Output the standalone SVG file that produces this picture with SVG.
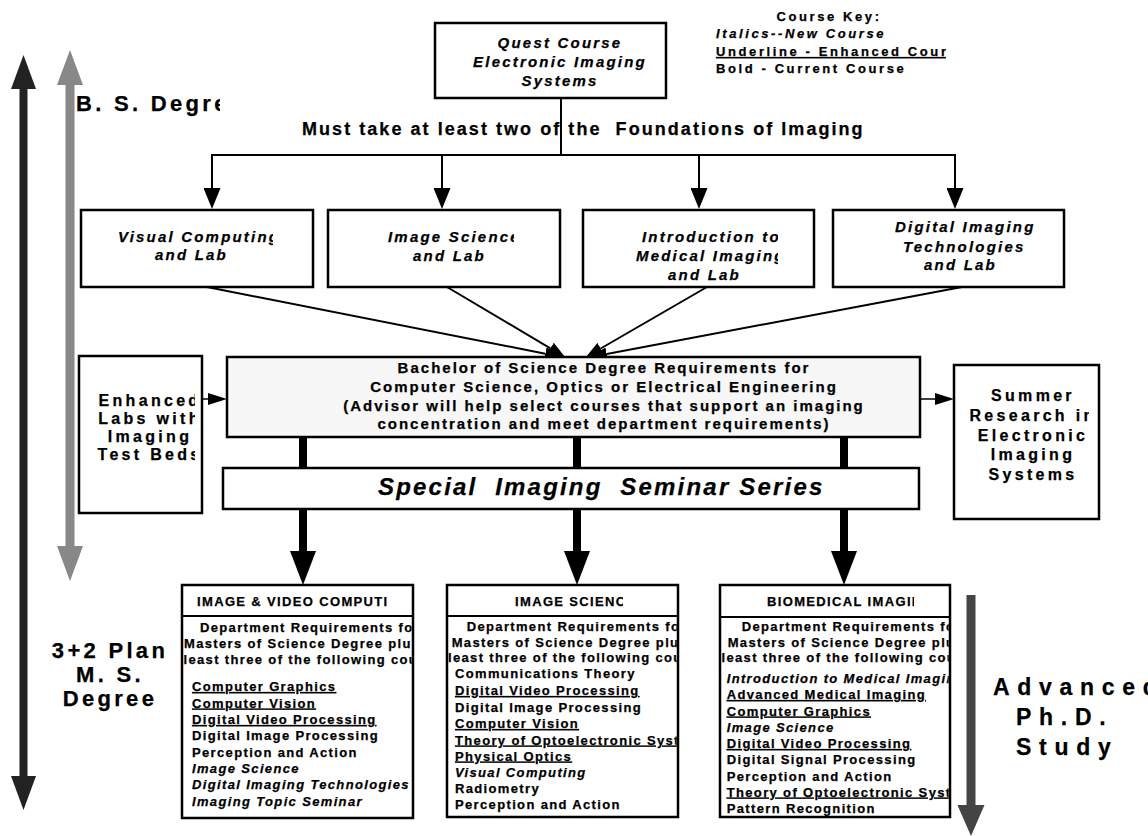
<svg xmlns="http://www.w3.org/2000/svg" width="1148" height="836" viewBox="0 0 1148 836">
<defs>
<style>
.t{font-family:"Liberation Sans",Arial,Helvetica,sans-serif;font-weight:bold;fill:#000;stroke:#000;stroke-width:0.25px}
.i{font-style:italic}
.u{text-decoration:underline}
.box{fill:#fff;stroke:#000;stroke-width:2.5}
.ln{stroke:#000;stroke-width:2;fill:none}
.big{font-size:22px;letter-spacing:3.3px}
.f15{font-size:15px;letter-spacing:2.2px}
.key{font-size:13px;letter-spacing:2.6px}
.bs{font-size:15px;letter-spacing:2px}
.side{font-size:16px;letter-spacing:3.3px}
.c13{font-size:13px;letter-spacing:1.35px}
</style>
<marker id="ah" viewBox="0 0 21 17" refX="0" refY="8.5" markerWidth="21" markerHeight="17" markerUnits="userSpaceOnUse" orient="auto"><path d="M0,0 L21,8.5 L0,17 z" fill="#000"/></marker>
<marker id="ahs" viewBox="0 0 17 13" refX="0" refY="6.5" markerWidth="17" markerHeight="13" markerUnits="userSpaceOnUse" orient="auto"><path d="M0,0 L17,6.5 L0,13 z" fill="#000"/></marker>
<marker id="ahm" viewBox="0 0 19 12" refX="0" refY="6" markerWidth="19" markerHeight="12" markerUnits="userSpaceOnUse" orient="auto"><path d="M0,0 L19,6 L0,12 z" fill="#000"/></marker>
<marker id="ahT" viewBox="0 0 34 26" refX="0" refY="13" markerWidth="34" markerHeight="26" markerUnits="userSpaceOnUse" orient="auto"><path d="M0,0 L34,13 L0,26 z" fill="#000"/></marker>
<marker id="hB" viewBox="0 0 34 25" refX="0" refY="12.5" markerWidth="34" markerHeight="25" markerUnits="userSpaceOnUse" orient="auto-start-reverse"><path d="M0,0 L34,12.5 L0,25 z" fill="#222"/></marker>
<marker id="hG" viewBox="0 0 35 26" refX="0" refY="13" markerWidth="35" markerHeight="26" markerUnits="userSpaceOnUse" orient="auto-start-reverse"><path d="M0,0 L35,13 L0,26 z" fill="#888"/></marker>
<marker id="hD" viewBox="0 0 31 27" refX="0" refY="13.5" markerWidth="31" markerHeight="27" markerUnits="userSpaceOnUse" orient="auto"><path d="M0,0 L31,13.5 L0,27 z" fill="#444"/></marker>
<clipPath id="cBS"><rect x="60" y="80" width="160" height="40"/></clipPath>
<clipPath id="cKey"><rect x="700" y="0" width="246" height="90"/></clipPath>
<clipPath id="cB1"><rect x="82" y="211" width="191" height="75"/></clipPath>
<clipPath id="cB2"><rect x="329" y="211" width="185" height="75"/></clipPath>
<clipPath id="cB3"><rect x="584" y="211" width="194" height="75"/></clipPath>
<clipPath id="cEn"><rect x="80" y="357" width="115" height="155"/></clipPath>
<clipPath id="cSu"><rect x="955" y="366" width="134" height="152"/></clipPath>
<clipPath id="cIVh"><rect x="183" y="586" width="204" height="29"/></clipPath>
<clipPath id="cIV"><rect x="183.25" y="617" width="228.5" height="200"/></clipPath>
<clipPath id="cISh"><rect x="448" y="586" width="175" height="29"/></clipPath>
<clipPath id="cIS"><rect x="448.25" y="617" width="228.5" height="199"/></clipPath>
<clipPath id="cBMh"><rect x="721" y="586" width="193" height="29"/></clipPath>
<clipPath id="cBM"><rect x="721.25" y="618" width="227.5" height="198"/></clipPath>
</defs>

<g id="progress-arrows">
<line x1="23.5" y1="89" x2="23.5" y2="776" stroke="#222" stroke-width="8" marker-start="url(#hB)" marker-end="url(#hB)"/>
<line x1="70" y1="85" x2="70" y2="546" stroke="#888" stroke-width="9" marker-start="url(#hG)" marker-end="url(#hG)"/>
<line x1="971" y1="595" x2="971" y2="805" stroke="#444" stroke-width="9" marker-end="url(#hD)"/>
</g>

<g id="label-bs"><text class="t big" x="76" y="111" clip-path="url(#cBS)">B. S. Degree</text></g>
<g id="label-ms"><text class="t big" text-anchor="middle"><tspan x="110" y="658">3+2 Plan</tspan><tspan x="110" y="682">M. S.</tspan><tspan x="110" y="706">Degree</tspan></text></g>
<g id="label-phd"><text class="t" style="font-size:23px;letter-spacing:7.7px"><tspan x="993" y="695">Advanced</tspan><tspan x="1016" y="725">Ph.D.</tspan><tspan x="1016" y="755">Study</tspan></text></g>

<g id="course-key" clip-path="url(#cKey)">
<text class="t key" x="829" y="21" text-anchor="middle">Course Key:</text>
<text class="t key i" x="716" y="38">Italics--New Course</text>
<text class="t key u" x="716" y="56">Underline - Enhanced Course</text>
<text class="t key" x="716" y="73">Bold - Current Course</text>
</g>

<g id="quest">
<rect class="box" x="435" y="23" width="231" height="75"/>
<text class="t f15 i" text-anchor="middle"><tspan x="560" y="48">Quest Course</tspan><tspan x="560" y="67">Electronic Imaging</tspan><tspan x="560" y="86">Systems</tspan></text>
</g>

<g id="must-take"><text class="t" xml:space="preserve" x="302" y="135" style="font-size:18px;letter-spacing:2.05px">Must take at least two of the  Foundations of Imaging</text></g>

<g id="connectors">
<polyline class="ln" points="561,98 561,155"/>
<line class="ln" x1="211" y1="155" x2="956" y2="155"/>
<line class="ln" x1="212" y1="155" x2="212" y2="188" marker-end="url(#ah)"/>
<line class="ln" x1="442" y1="155" x2="442" y2="188" marker-end="url(#ah)"/>
<line class="ln" x1="699" y1="155" x2="699" y2="188" marker-end="url(#ah)"/>
<line class="ln" x1="955" y1="155" x2="955" y2="188" marker-end="url(#ah)"/>
<line class="ln" x1="207" y1="287" x2="545.3" y2="353.7" marker-end="url(#ahs)"/>
<line class="ln" x1="447" y1="287" x2="550.4" y2="348.3" marker-end="url(#ahs)"/>
<line class="ln" x1="707" y1="287" x2="600.7" y2="348.5" marker-end="url(#ahs)"/>
<line class="ln" x1="962" y1="287" x2="606.7" y2="353.9" marker-end="url(#ahs)"/>
<line x1="202" y1="399" x2="208" y2="399" stroke="#000" stroke-width="1.5" marker-end="url(#ahm)"/>
<line x1="921" y1="399" x2="935" y2="399" stroke="#000" stroke-width="1.5" marker-end="url(#ahm)"/>
<g stroke="#000" stroke-width="8">
<line x1="303" y1="437" x2="303" y2="468"/>
<line x1="577" y1="437" x2="577" y2="468"/>
<line x1="844" y1="437" x2="844" y2="468"/>
<line x1="303" y1="509" x2="303" y2="551" marker-end="url(#ahT)"/>
<line x1="577" y1="509" x2="577" y2="551" marker-end="url(#ahT)"/>
<line x1="844" y1="509" x2="844" y2="551" marker-end="url(#ahT)"/>
</g>
</g>

<g id="visual-computing">
<rect class="box" x="81" y="210" width="232" height="77"/>
<g clip-path="url(#cB1)"><text class="t f15 i"><tspan x="118" y="242">Visual Computing</tspan><tspan x="155" y="260">and Lab</tspan></text></g>
</g>
<g id="image-science">
<rect class="box" x="328" y="210" width="232" height="77"/>
<g clip-path="url(#cB2)"><text class="t f15 i"><tspan x="388" y="242">Image Science</tspan><tspan x="413" y="261">and Lab</tspan></text></g>
</g>
<g id="medical-imaging">
<rect class="box" x="583" y="210" width="231" height="77"/>
<g clip-path="url(#cB3)"><text class="t f15 i"><tspan x="642" y="242">Introduction to</tspan><tspan x="636" y="261">Medical Imaging</tspan><tspan x="668" y="280">and Lab</tspan></text></g>
</g>
<g id="digital-imaging">
<rect class="box" x="833" y="210" width="231" height="77"/>
<text class="t f15 i"><tspan x="895" y="232">Digital Imaging</tspan><tspan x="903" y="252">Technologies</tspan><tspan x="924" y="270">and Lab</tspan></text>
</g>

<g id="bs-requirements">
<rect x="227" y="357" width="693" height="80" fill="#f7f7f7" stroke="#000" stroke-width="2.5"/>
<text class="t bs" text-anchor="middle"><tspan x="604" y="373">Bachelor of Science Degree Requirements for</tspan><tspan x="604" y="392">Computer Science, Optics or Electrical Engineering</tspan><tspan x="604" y="411">(Advisor will help select courses that support an imaging</tspan><tspan x="604" y="429">concentration and meet department requirements)</tspan></text>
</g>

<g id="enhanced-labs">
<rect class="box" x="79" y="356" width="123" height="157"/>
<g clip-path="url(#cEn)"><text class="t side" text-anchor="middle"><tspan x="150" y="406">Enhanced</tspan><tspan x="150" y="424">Labs with</tspan><tspan x="150" y="442">Imaging</tspan><tspan x="150" y="460">Test Beds</tspan></text></g>
</g>

<g id="summer-research">
<rect class="box" x="954" y="365" width="145" height="154"/>
<g clip-path="url(#cSu)"><text class="t side" text-anchor="middle"><tspan x="1033" y="401">Summer</tspan><tspan x="1033" y="421">Research in</tspan><tspan x="1033" y="441">Electronic</tspan><tspan x="1033" y="460">Imaging</tspan><tspan x="1033" y="480">Systems</tspan></text></g>
</g>

<g id="seminar">
<rect class="box" x="223" y="468" width="696" height="41"/>
<text class="t i" xml:space="preserve" x="378" y="495" style="font-size:24px;letter-spacing:2.2px">Special  Imaging  Seminar Series</text>
</g>

<g id="image-video-computing">
<rect class="box" x="182" y="585" width="231" height="233"/>
<line class="ln" x1="182" y1="616" x2="413" y2="616"/>
<text class="t c13" x="197" y="606" clip-path="url(#cIVh)">IMAGE &amp; VIDEO COMPUTING</text>
<g clip-path="url(#cIV)">
<text class="t c13" x="200" y="632">Department Requirements for</text>
<text class="t c13" x="184" y="648">Masters of Science Degree plus at</text>
<text class="t c13" x="183.5" y="664">least three of the following courses</text>
<text class="t c13 u" x="192" y="691">Computer Graphics</text>
<text class="t c13 u" x="192" y="707.5">Computer Vision</text>
<text class="t c13 u" x="192" y="724">Digital Video Processing</text>
<text class="t c13" x="192" y="740">Digital Image Processing</text>
<text class="t c13" x="192" y="756.5">Perception and Action</text>
<text class="t c13 i" x="192" y="773">Image Science</text>
<text class="t c13 i" x="192" y="789">Digital Imaging Technologies</text>
<text class="t c13 i" x="192" y="805.5">Imaging Topic Seminar</text>
</g>
</g>

<g id="image-science-ms">
<rect class="box" x="447" y="585" width="231" height="232"/>
<line class="ln" x1="447" y1="616" x2="678" y2="616"/>
<text class="t c13" x="515" y="606" clip-path="url(#cISh)">IMAGE SCIENCE</text>
<g clip-path="url(#cIS)">
<text class="t c13" x="466.7" y="631">Department Requirements for</text>
<text class="t c13" x="451.7" y="646.5">Masters of Science Degree plus at</text>
<text class="t c13" x="448" y="662">least three of the following courses</text>
<text class="t c13" x="455" y="678">Communications Theory</text>
<text class="t c13 u" x="455" y="695">Digital Video Processing</text>
<text class="t c13" x="455" y="711.5">Digital Image Processing</text>
<text class="t c13 u" x="455" y="728">Computer Vision</text>
<text class="t c13 u" x="455" y="744.5">Theory of Optoelectronic Systems</text>
<text class="t c13 u" x="455" y="760.5">Physical Optics</text>
<text class="t c13 i" x="455" y="777">Visual Computing</text>
<text class="t c13" x="455" y="793">Radiometry</text>
<text class="t c13" x="455" y="809">Perception and Action</text>
</g>
</g>

<g id="biomedical-imaging">
<rect class="box" x="720" y="585" width="230" height="232"/>
<line class="ln" x1="720" y1="617" x2="950" y2="617"/>
<text class="t c13" x="767" y="606" clip-path="url(#cBMh)">BIOMEDICAL IMAGING</text>
<g clip-path="url(#cBM)">
<text class="t c13" x="741.7" y="631">Department Requirements for</text>
<text class="t c13" x="727.7" y="646.5">Masters of Science Degree plus at</text>
<text class="t c13" x="721.5" y="662">least three of the following courses</text>
<text class="t c13 i" x="726.7" y="683">Introduction to Medical Imaging</text>
<text class="t c13 u" x="726.7" y="699">Advanced Medical Imaging</text>
<text class="t c13 u" x="726.7" y="715.5">Computer Graphics</text>
<text class="t c13 i" x="726.7" y="731.5">Image Science</text>
<text class="t c13 u" x="726.7" y="748">Digital Video Processing</text>
<text class="t c13" x="726.7" y="764">Digital Signal Processing</text>
<text class="t c13" x="726.7" y="780.5">Perception and Action</text>
<text class="t c13 u" x="726.7" y="796.5">Theory of Optoelectronic Systems</text>
<text class="t c13" x="726.7" y="813">Pattern Recognition</text>
</g>
</g>
</svg>
